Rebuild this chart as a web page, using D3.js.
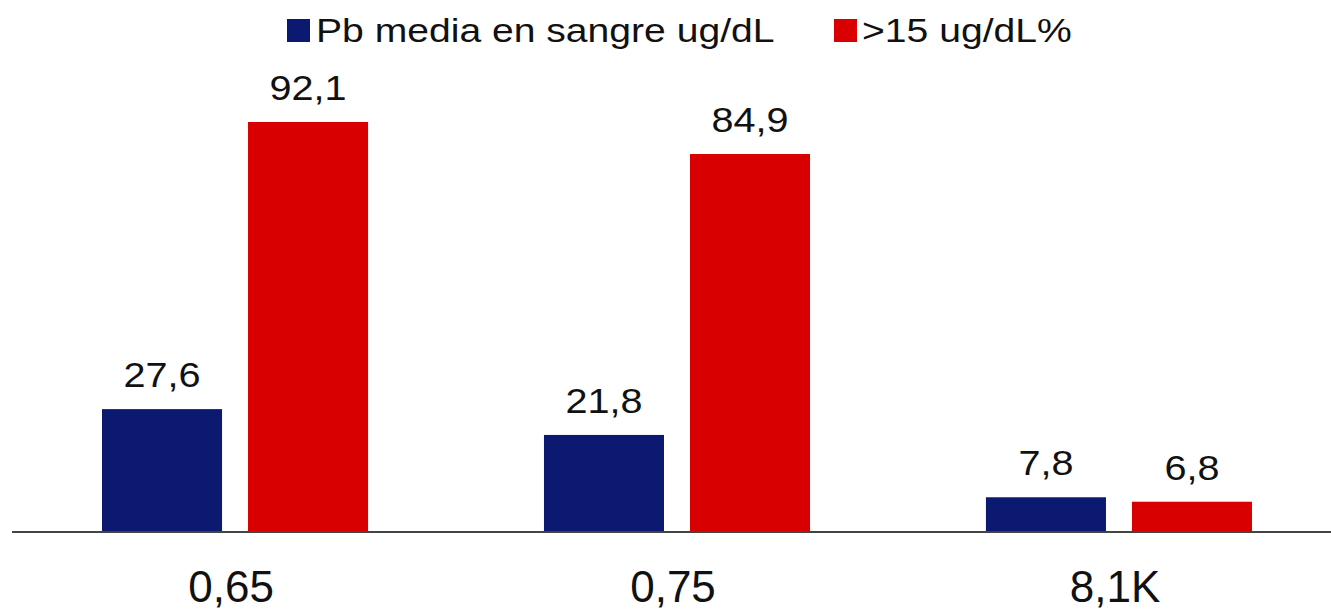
<!DOCTYPE html>
<html>
<head>
<meta charset="utf-8">
<script src="https://cdn.jsdelivr.net/npm/d3@7"></script>
<style>
  html, body { margin: 0; padding: 0; background: #fff; }
  svg { display: block; }
  text { font-family: "Liberation Sans", Arial, Helvetica, sans-serif; fill: #111; }
</style>
</head>
<body>
<svg id="chart" width="1331" height="615"></svg>
<script>
// ---- data ----
const categories = ["0,65", "0,75", "8,1K"];
const seriesNames = ["Pb media en sangre ug/dL", ">15 ug/dL%"];
const pbMedia = [27.6, 21.8, 7.8];
const over15 = [92.1, 84.9, 6.8];
const valueLabels = [["27,6", "21,8", "7,8"], ["92,1", "84,9", "6,8"]];
const seriesColors = ["#0b1a70", "#d80000"];

// ---- layout ----
const W = 1331, H = 615;
const baseY = 532;
const svg = d3.select("#chart");

const x0 = d3.scaleBand().domain(categories).range([102, 1252]).paddingInner(0.398).paddingOuter(0);
const x1 = d3.scaleBand().domain(seriesNames).range([0, x0.bandwidth()]).paddingInner(0.178);
const y = d3.scaleLinear().domain([0, 100]).range([baseY, 86.8]);

const seriesValues = [pbMedia, over15];
const rows = [];
categories.forEach((c, i) => {
  seriesNames.forEach((s, j) => {
    rows.push({ cat: c, series: s, si: j, value: seriesValues[j][i], label: valueLabels[j][i] });
  });
});

// bars
svg.append("g").selectAll("rect").data(rows).join("rect")
  .attr("x", d => x0(d.cat) + x1(d.series))
  .attr("y", d => y(d.value))
  .attr("width", x1.bandwidth())
  .attr("height", d => baseY - y(d.value))
  .attr("fill", d => seriesColors[d.si]);

// value labels
const valStretch = 1.1;
svg.append("g").selectAll("text").data(rows).join("text")
  .attr("transform", d => `translate(${x0(d.cat) + x1(d.series) + x1.bandwidth() / 2},${y(d.value) - 22}) scale(${valStretch},1)`)
  .attr("text-anchor", "middle")
  .style("font-size", "36px")
  .text(d => d.label);

// baseline
svg.append("line")
  .attr("x1", 12).attr("x2", W)
  .attr("y1", baseY).attr("y2", baseY)
  .attr("stroke", "#444").attr("stroke-width", 2);

// category axis
const xAxis = d3.axisBottom(x0).tickSize(0).tickPadding(70);
const gx = svg.append("g").attr("transform", `translate(0,${baseY})`).call(xAxis);
gx.select(".domain").remove();
gx.selectAll("text")
  .attr("dy", 0)
  .attr("dx", -4)
  .style("font-size", "44px")
  .style("font-family", "'Liberation Sans', Arial, sans-serif")
  .attr("fill", "#111");

// legend
const legStretch = 1.15;
const legend = svg.append("g");
const legItems = [
  { name: seriesNames[0], color: seriesColors[0], sx: 287, tx: 316 },
  { name: seriesNames[1], color: seriesColors[1], sx: 834, tx: 862 }
];
legItems.forEach(it => {
  legend.append("rect").attr("x", it.sx).attr("y", 19).attr("width", 23).attr("height", 23).attr("fill", it.color);
  legend.append("text")
    .attr("transform", `translate(${it.tx},42) scale(${legStretch},1)`)
    .style("font-size", "34px")
    .text(it.name);
});
</script>
</body>
</html>
